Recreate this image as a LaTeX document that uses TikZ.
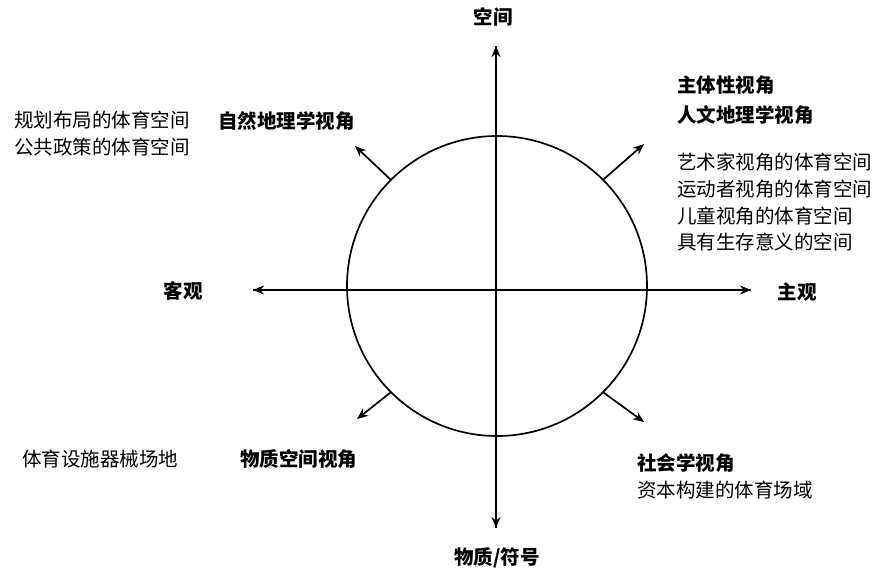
\documentclass[tikz,border=0pt]{standalone}
\usepackage{fontspec}
\setmainfont{Noto Sans CJK SC}
\usetikzlibrary{arrows.meta}
\begin{document}
\begin{tikzpicture}[x=1pt,y=-1pt,
  ax/.style={line width=1.7pt,-{Stealth[length=11pt,width=9pt]}},
  lbl/.style={font=\fontsize{19.5}{20}\selectfont\bfseries,inner sep=0pt},
  txt/.style={font=\fontsize{19.5}{26.7}\selectfont,inner sep=0pt,align=left},
  btxt/.style={font=\fontsize{19.5}{30}\selectfont\bfseries,inner sep=0pt,align=left}]
\useasboundingbox[fill=white] (0,0) rectangle (888,579);
\node[draw,circle,line width=1.7pt,minimum size=300pt,inner sep=0pt] (c) at (497,286) {};
\coordinate (L) at (253,290);
\coordinate (R) at (751,290);
\coordinate (T) at (496,46);
\coordinate (B) at (496,528);
\draw[ax] (R) -- (L);
\draw[ax] (L) -- (R);
\draw[ax] (B) -- (T);
\draw[ax] (T) -- (B);
\coordinate (nw) at (355,146);
\coordinate (ne) at (644,144);
\coordinate (se) at (644,422);
\coordinate (sw) at (357,419);
\draw[ax] (c.135) -- (nw);
\draw[ax] (c.45) -- (ne);
\draw[ax] (c.-45) -- (se);
\draw[ax] (c.-135) -- (sw);
\node[lbl] (top) at (493,17) {空间};
\node[lbl] (bot) at (497,558) {物质/符号};
\node[lbl] (left) at (183,291) {客观};
\node[lbl] (right) at (797,292) {主观};
\node[lbl,anchor=west] (nat) at (218,121) {自然地理学视角};
\node[btxt,anchor=north west] (hum) at (677,76) {主体性视角\\人文地理学视角};
\node[txt,anchor=north west] (humt) at (677,153) {艺术家视角的体育空间\\运动者视角的体育空间\\儿童视角的体育空间\\具有生存意义的空间};
\node[txt,anchor=north west] (plan) at (14,111) {规划布局的体育空间\\公共政策的体育空间};
\node[txt,anchor=west] (fac) at (22,459) {体育设施器械场地};
\node[lbl,anchor=west] (mat) at (240,459) {物质空间视角};
\node[lbl,anchor=west] (soc) at (637,463) {社会学视角};
\node[txt,anchor=west] (soct) at (637,490) {资本构建的体育场域};
\end{tikzpicture}
\end{document}
